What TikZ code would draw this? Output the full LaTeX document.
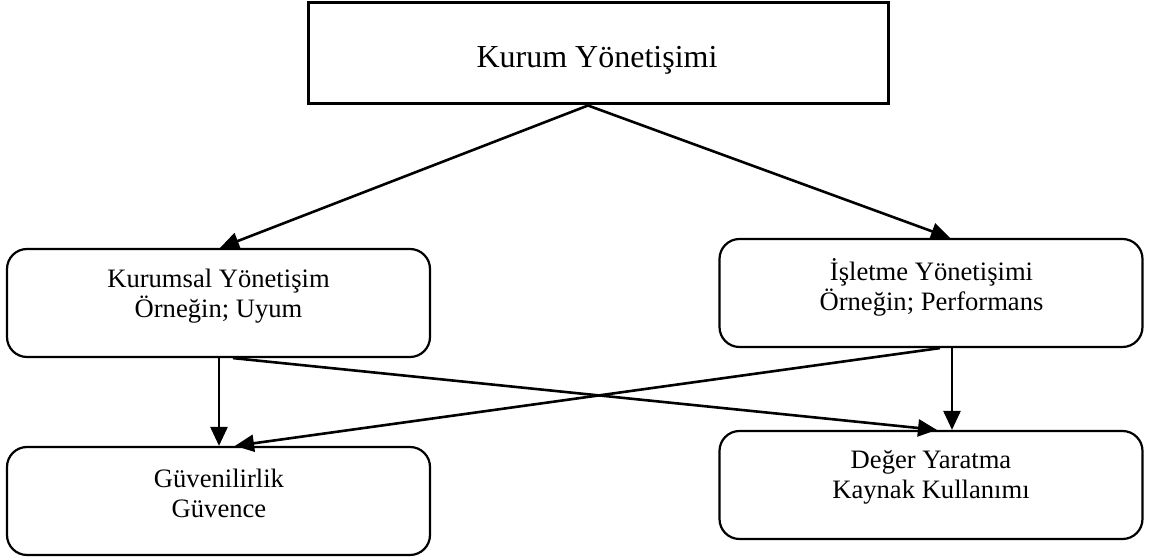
\documentclass[tikz,border=0pt]{standalone}
\usepackage{fontspec}
\setmainfont{Liberation Serif}
\usetikzlibrary{arrows.meta,calc}
\begin{document}
\begin{tikzpicture}[x=0.5pt,y=-0.5pt,
  topbox/.style={draw, line width=1.5pt, minimum width=290pt, minimum height=50.5pt, inner sep=0pt},
  rbox/.style={draw, line width=1.1pt, rounded corners=10pt, minimum width=211.5pt, minimum height=54pt, inner sep=0pt},
  lbl/.style={align=center, font=\fontsize{13.3}{15}\selectfont, inner sep=0pt},
  toplbl/.style={align=center, font=\fontsize{16}{19}\selectfont, inner sep=0pt},
  conn/.style={line width=1.3pt, -{Triangle[length=9.5pt,width=8.5pt]}}]
  \useasboundingbox (0,0) rectangle (1153,560);

  % boxes
  \node[topbox] (top) at (598,53.5) {};
  \node[rbox] (ky) at (218.5,303) {};
  \node[rbox] (iy) at (931,293) {};
  \node[rbox] (gv) at (218.5,501) {};
  \node[rbox] (dy) at (931,485) {};

  % labels
  \node[toplbl] (topt) at (597,60) {Kurum Yönetişimi};
  \node[lbl] (kyt) at (218.5,296) {Kurumsal Yönetişim\\Örneğin; Uyum};
  \node[lbl] (iyt) at (931.5,287.5) {İşletme Yönetişimi\\Örneğin; Performans};
  \node[lbl] (gvt) at (219,493) {Güvenilirlik\\Güvence};
  \node[lbl] (dyt) at (931,477.5) {Değer Yaratma\\Kaynak Kullanımı};

  % connectors
  \coordinate (apex) at ($(top.south)+(-10,0)$);
  \draw[conn] (apex) -- ($(ky.north)+(1.5,0)$);
  \draw[conn] (apex) -- ($(iy.north)+(19,0)$);
  \draw[conn] ($(ky.south)+(0.5,0)$) -- ($(gv.north)+(0.5,0)$);
  \draw[conn] ($(ky.south)+(14.5,0)$) -- ($(dy.north)+(6,0)$);
  \draw[conn] ($(iy.south)+(9,0)$) -- ($(gv.north)+(16.5,0)$);
  \draw[conn] ($(iy.south)+(21,0)$) -- ($(dy.north)+(21,0)$);
\end{tikzpicture}
\end{document}
